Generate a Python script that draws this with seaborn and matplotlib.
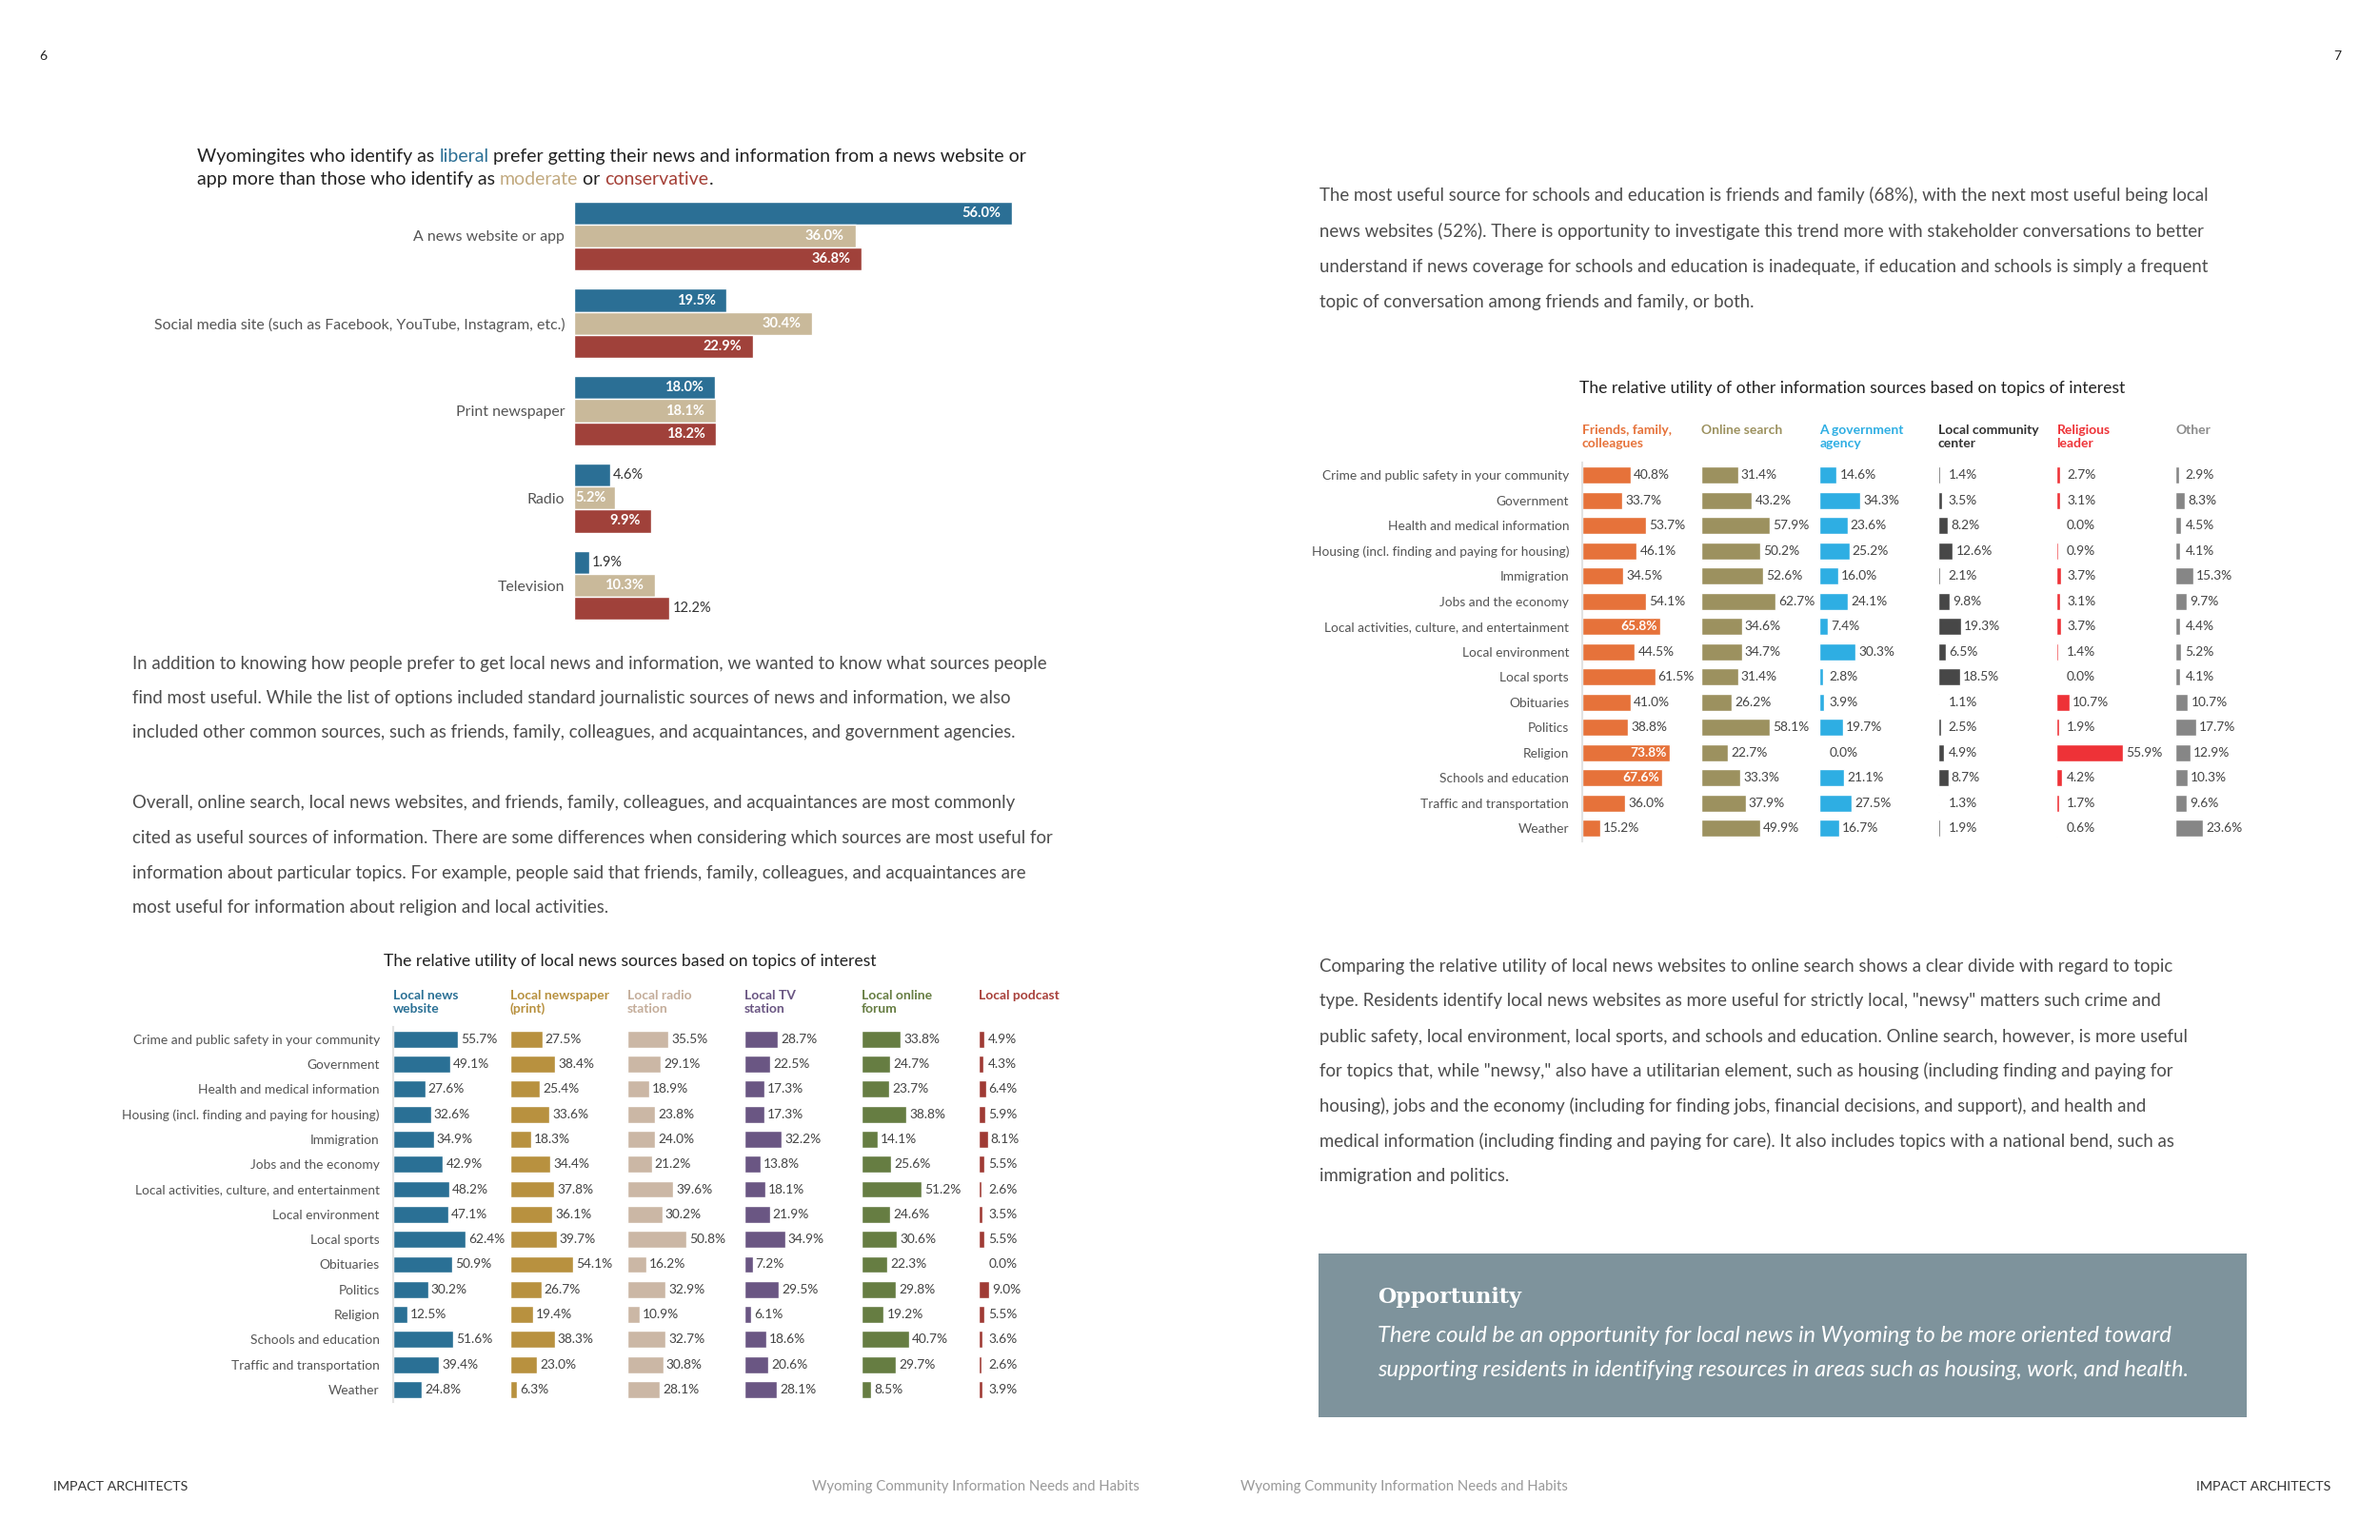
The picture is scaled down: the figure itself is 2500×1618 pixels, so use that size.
import matplotlib
matplotlib.use("Agg")
import matplotlib.pyplot as plt
import matplotlib.patches as mpatches
import pandas as pd
import seaborn as sns

W, H = 2500, 1618

# --- chart 1: preferred source by ideology
sources = ["A news website or app",
           "Social media site (such as Facebook, YouTube, Instagram, etc.)",
           "Print newspaper", "Radio", "Television"]
ideologies = ["Liberal", "Moderate", "Conservative"]
liberal = [56.0, 19.5, 18.0, 4.6, 1.9]
moderate = [36.0, 30.4, 18.1, 5.2, 10.3]
conservative = [36.8, 22.9, 18.2, 9.9, 12.2]

# --- topics shared by both utility charts
topics = ["Crime and public safety in your community", "Government",
          "Health and medical information",
          "Housing (incl. finding and paying for housing)", "Immigration",
          "Jobs and the economy", "Local activities, culture, and entertainment",
          "Local environment", "Local sports", "Obituaries", "Politics",
          "Religion", "Schools and education", "Traffic and transportation",
          "Weather"]

# --- chart 2: local news sources
local_cols = ["Local news\nwebsite", "Local newspaper\n(print)", "Local radio\nstation",
              "Local TV\nstation", "Local online\nforum", "Local podcast"]
local_website = [55.7, 49.1, 27.6, 32.6, 34.9, 42.9, 48.2, 47.1, 62.4, 50.9, 30.2, 12.5, 51.6, 39.4, 24.8]
local_newspaper = [27.5, 38.4, 25.4, 33.6, 18.3, 34.4, 37.8, 36.1, 39.7, 54.1, 26.7, 19.4, 38.3, 23.0, 6.3]
local_radio = [35.5, 29.1, 18.9, 23.8, 24.0, 21.2, 39.6, 30.2, 50.8, 16.2, 32.9, 10.9, 32.7, 30.8, 28.1]
local_tv = [28.7, 22.5, 17.3, 17.3, 32.2, 13.8, 18.1, 21.9, 34.9, 7.2, 29.5, 6.1, 18.6, 20.6, 28.1]
local_forum = [33.8, 24.7, 23.7, 38.8, 14.1, 25.6, 51.2, 24.6, 30.6, 22.3, 29.8, 19.2, 40.7, 29.7, 8.5]
local_podcast = [4.9, 4.3, 6.4, 5.9, 8.1, 5.5, 2.6, 3.5, 5.5, 0.0, 9.0, 5.5, 3.6, 2.6, 3.9]

# --- chart 3: other information sources
other_cols = ["Friends, family,\ncolleagues", "Online search", "A government\nagency",
              "Local community\ncenter", "Religious\nleader", "Other"]
friends = [40.8, 33.7, 53.7, 46.1, 34.5, 54.1, 65.8, 44.5, 61.5, 41.0, 38.8, 73.8, 67.6, 36.0, 15.2]
online_search = [31.4, 43.2, 57.9, 50.2, 52.6, 62.7, 34.6, 34.7, 31.4, 26.2, 58.1, 22.7, 33.3, 37.9, 49.9]
gov_agency = [14.6, 34.3, 23.6, 25.2, 16.0, 24.1, 7.4, 30.3, 2.8, 3.9, 19.7, 0.0, 21.1, 27.5, 16.7]
community_center = [1.4, 3.5, 8.2, 12.6, 2.1, 9.8, 19.3, 6.5, 18.5, 1.1, 2.5, 4.9, 8.7, 1.3, 1.9]
religious_leader = [2.7, 3.1, 0.0, 0.9, 3.7, 3.1, 3.7, 1.4, 0.0, 10.7, 1.9, 55.9, 4.2, 1.7, 0.6]
other_source = [2.9, 8.3, 4.5, 4.1, 15.3, 9.7, 4.4, 5.2, 4.1, 10.7, 17.7, 12.9, 10.3, 9.6, 23.6]

# --- page text
para_left_1 = [
    "In addition to knowing how people prefer to get local news and information, we wanted to know what sources people",
    "find most useful. While the list of options included standard journalistic sources of news and information, we also",
    "included other common sources, such as friends, family, colleagues, and acquaintances, and government agencies."]
para_left_2 = [
    "Overall, online search, local news websites, and friends, family, colleagues, and acquaintances are most commonly",
    "cited as useful sources of information. There are some differences when considering which sources are most useful for",
    "information about particular topics. For example, people said that friends, family, colleagues, and acquaintances are",
    "most useful for information about religion and local activities."]
para_right_1 = [
    "The most useful source for schools and education is friends and family (68%), with the next most useful being local",
    "news websites (52%). There is opportunity to investigate this trend more with stakeholder conversations to better",
    "understand if news coverage for schools and education is inadequate, if education and schools is simply a frequent",
    "topic of conversation among friends and family, or both."]
para_right_2 = [
    "Comparing the relative utility of local news websites to online search shows a clear divide with regard to topic",
    'type. Residents identify local news websites as more useful for strictly local, "newsy" matters such crime and',
    "public safety, local environment, local sports, and schools and education. Online search, however, is more useful",
    'for topics that, while "newsy," also have a utilitarian element, such as housing (including finding and paying for',
    "housing), jobs and the economy (including for finding jobs, financial decisions, and support), and health and",
    "medical information (including finding and paying for care). It also includes topics with a national bend, such as",
    "immigration and politics."]
opportunity = [
    "There could be an opportunity for local news in Wyoming to be more oriented toward",
    "supporting residents in identifying resources in areas such as housing, work, and health."]

ideology_colors = ["#2b6f95", "#c9b99a", "#a0413a"]
local_colors = ["#2a7095", "#b8913f", "#cbb7a5", "#6a5683", "#667d42", "#9f3a34"]
local_head = ["#2a7095", "#b8913f", "#c4ad9a", "#6a5683", "#667d42", "#a8403a"]
other_colors = ["#e6723a", "#9c915f", "#2eaee3", "#474747", "#ee3237", "#868686"]
other_head = ["#e6723a", "#9c915f", "#2eaee3", "#333333", "#ee3237", "#8a8a8a"]

sns.set_style("white")
plt.rcParams["font.family"] = ["Lato", "DejaVu Sans"]

fig = plt.figure(figsize=(25, 16.18), dpi=100)
bg = fig.add_axes([0, 0, 1, 1])
bg.set_xlim(0, W)
bg.set_ylim(H, 0)
bg.axis("off")


def px_axes(x0, y0, x1, y1):
    ax = fig.add_axes([x0 / W, 1 - y1 / H, (x1 - x0) / W, (y1 - y0) / H])
    ax.patch.set_alpha(0)
    return ax


def lines(x, ys, texts, **kw):
    for y, t in zip(ys, texts):
        bg.text(x, y, t, va="center", ha="left", **kw)


# page furniture
bg.text(45, 59, "6", fontsize=10, color="#222", ha="center", va="center")
bg.text(2455, 59, "7", fontsize=10, color="#222", ha="center", va="center")
bg.text(56, 1562, "IMPACT ARCHITECTS", fontsize=10.3, color="#333", va="center")
bg.text(2448, 1562, "IMPACT ARCHITECTS", fontsize=10.3, color="#333", va="center", ha="right")
bg.text(1197, 1562, "Wyoming Community Information Needs and Habits", fontsize=10.7,
        color="#999", va="center", ha="right")
bg.text(1303, 1562, "Wyoming Community Information Needs and Habits", fontsize=10.7,
        color="#999", va="center", ha="left")

body = dict(fontsize=13.4, color="#4d4d4d")
lines(139, [697, 733, 769], para_left_1, **body)
lines(139, [843, 880, 917, 953], para_left_2, **body)
lines(1386, [205, 243, 280, 317], para_right_1, **body)
lines(1386, [1015, 1052, 1089, 1125, 1162, 1199, 1236], para_right_2, **body)

# opportunity box
bg.add_patch(mpatches.Rectangle((1385, 1317), 975, 172, color="#7e939c", lw=0))
bg.text(1447, 1363, "Opportunity", family="DejaVu Serif", fontweight="bold",
        fontsize=16, color="white", va="center")
lines(1447, [1403, 1440], opportunity, fontsize=17, style="italic", color="white")

# chart 1 title with coloured words
title_parts = [[("Wyomingites who identify as ", "#222"), ("liberal", ideology_colors[0]),
                (" prefer getting their news and information from a news website or", "#222")],
               [("app more than those who identify as ", "#222"), ("moderate", "#c2aa80"),
                (" or ", "#222"), ("conservative", "#a43f36"), (".", "#222")]]
for y, parts in zip([170, 194], title_parts):
    t = bg.text(207, y, parts[0][0], color=parts[0][1], fontsize=14, va="baseline")
    for s, c in parts[1:]:
        t = bg.annotate(s, xy=(1, 0), xycoords=t, va="bottom", ha="left",
                        color=c, fontsize=14)

# chart 1 bars
df_top = pd.DataFrame({
    "source": sources * 3,
    "group": [g for g in ideologies for _ in sources],
    "value": liberal + moderate + conservative})
ax = px_axes(603, 202, 603 + 60 * 8.21, 661)
sns.barplot(data=df_top, y="source", x="value", hue="group", hue_order=ideologies,
            palette=ideology_colors, width=0.79, saturation=1, errorbar=None,
            legend=False, orient="h", ax=ax)
ax.set_xlim(0, 60)
ax.set_ylim(len(sources) - 0.5, -0.5)
ax.set_xlabel("")
ax.set_ylabel("")
ax.set_xticks([])
ax.tick_params(axis="y", length=0, pad=7, labelsize=11.4, labelcolor="#555")
for s in ax.spines.values():
    s.set_visible(False)
outside = {("Radio", "Liberal"), ("Television", "Liberal"), ("Television", "Conservative")}
for grp, cont in zip(ideologies, ax.containers):
    for src, bar in zip(sources, cont):
        v = bar.get_width()
        yc = bar.get_y() + bar.get_height() / 2
        lab = f"{v:.1f}%"
        if (src, grp) in outside:
            ax.text(v + 0.4, yc, lab, ha="left", va="center", fontsize=10.5, color="#333")
        elif v < 8:
            ax.text(0.2, yc, lab, ha="left", va="center", fontsize=10.5,
                    color="white", fontweight="bold")
        else:
            ax.text(v - 1.4, yc, lab, ha="right", va="center", fontsize=10.5,
                    color="white", fontweight="bold")


def topic_panel(columns, series, colors, heads, x_start, step, y_top, y_bot,
                head_y, bar_w, inside_min=None):
    for i, (name, vals, c, hc) in enumerate(zip(columns, series, colors, heads)):
        x0 = x_start + i * step
        ax = px_axes(x0, y_top, x0 + step, y_bot)
        df = pd.DataFrame({"topic": topics, "value": vals})
        sns.barplot(data=df, x="value", y="topic", color=c, width=bar_w, saturation=1,
                    errorbar=None, orient="h", ax=ax)
        ax.set_xlim(0, 100)
        ax.set_ylim(len(topics) - 0.5, -0.5)
        ax.set_xlabel("")
        ax.set_ylabel("")
        ax.set_xticks([])
        for s in ax.spines.values():
            s.set_visible(False)
        if i == 0:
            ax.spines["left"].set_visible(True)
            ax.spines["left"].set_color("#e2e2e2")
            ax.spines["left"].set_linewidth(1.5)
            ax.tick_params(axis="y", length=0, pad=10, labelsize=9.9, labelcolor="#555")
        else:
            ax.tick_params(axis="y", length=0, labelleft=False)
        for bar, v in zip(ax.patches, vals):
            yc = bar.get_y() + bar.get_height() / 2
            if inside_min is not None and v >= inside_min:
                ax.text(v - 2.5, yc, f"{v:.1f}%", ha="right", va="center", fontsize=9.9,
                        color="white", fontweight="bold")
            else:
                ax.text(max(v, 6) + 2.5, yc, f"{v:.1f}%", ha="left", va="center",
                        fontsize=9.9, color="#444")
        bg.text(x0, head_y, name, ha="left", va="top", fontsize=10, fontweight="bold",
                color=hc, linespacing=1.15)


bg.text(662, 1010, "The relative utility of local news sources based on topics of interest",
        ha="center", va="center", fontsize=12.6, color="#222")
topic_panel(local_cols,
            [local_website, local_newspaper, local_radio, local_tv, local_forum, local_podcast],
            local_colors, local_head, 412.7, 123, 1078.5, 1473.2, 1040, 0.68)

bg.text(1946, 408, "The relative utility of other information sources based on topics of interest",
        ha="center", va="center", fontsize=12.6, color="#222")
topic_panel(other_cols,
            [friends, online_search, gov_agency, community_center, religious_leader, other_source],
            other_colors, other_head, 1662, 124.6, 486, 883.6, 446, 0.67, inside_min=65)

fig.savefig("out.png", dpi=100)
